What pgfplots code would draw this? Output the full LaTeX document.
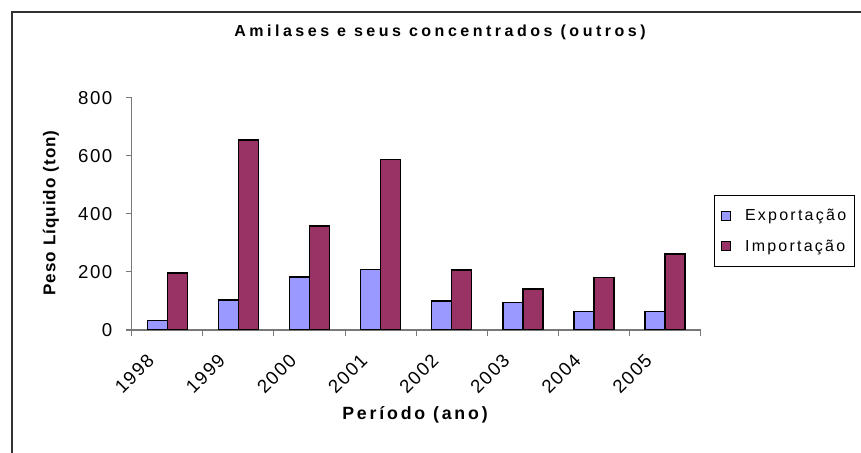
\documentclass[border=0pt]{standalone}
\usepackage{fontspec}
\setmainfont{Liberation Sans}
\newfontfamily\tickfont{Liberation Sans}[LetterSpace=8]
\newfontfamily\legfont{Liberation Sans}[LetterSpace=14]
\newfontfamily\titlefont{Liberation Sans}[LetterSpace=22]
\newfontfamily\ylabfont{Liberation Sans}[LetterSpace=6]
\newfontfamily\xlabfont{Liberation Sans}[LetterSpace=16]
\usepackage{pgfplots}
\pgfplotsset{compat=1.18}
\definecolor{expc}{RGB}{153,153,255}
\definecolor{impc}{RGB}{153,51,102}
\definecolor{axgray}{RGB}{120,120,120}
\definecolor{bordc}{RGB}{50,50,50}
\begin{document}
\begin{tikzpicture}[x=0.75pt,y=0.75pt]
\useasboundingbox (0,0) rectangle (861,453);
\draw[bordc, line width=1.5pt] (12,0) -- (12,441) -- (861,441);
\coordinate (sw) at (131.7,123);
\begin{axis}[
  at={(sw)}, anchor=south west,
  scale only axis, width=426.75pt, height=174.2pt,
  ybar=0pt, bar width=15pt,
  xmin=-0.5, xmax=7.5, ymin=0, ymax=800,
  axis x line=bottom, axis y line=left,
  axis line style={-, draw=axgray, line width=0.9pt},
  xtick={0,...,7},
  xticklabels={1998,1999,2000,2001,2002,2003,2004,2005},
  ytick={0,200,400,600,800},
  minor xtick={-0.5,0.5,...,7.5},
  minor ytick={0,200,400,600,800},
  major tick length=0pt, minor tick length=4.2pt,
  tick align=outside,
  every tick/.style={draw=axgray, line width=0.8pt},
  /pgf/number format/assume math mode=true,
  yticklabel style={font=\tickfont\fontsize{14}{16}\selectfont, xshift=-11pt},
  xticklabel style={font=\tickfont\fontsize{14}{16}\selectfont, xshift=-16pt, yshift=-12pt, rotate=45, anchor=north east},
  legend style={at={(1.0234,0.581)}, anchor=north west, draw=black, line width=0.6pt,
    font=\legfont\fontsize{12}{13}\selectfont, inner xsep=4pt, inner ysep=8pt, row sep=9pt,
    legend cell align=left},
  legend image code/.code={\draw[#1, line width=0.7pt] (1pt,-3.4pt) rectangle (7.8pt,3.4pt); \path[draw=none, fill=none] (0pt,0pt) -- (17pt,0pt);},
]
\addplot[fill=expc, draw=black, line width=1.1pt] coordinates {(0,32) (1,104) (2,182) (3,208) (4,100) (5,94) (6,63) (7,63)};
\addplot[fill=impc, draw=black, line width=1.1pt] coordinates {(0,197) (1,654) (2,358) (3,587) (4,207) (5,141) (6,181) (7,261)};
\legend{Exportação, Importação}
\end{axis}
\node[font=\titlefont\bfseries\fontsize{12}{14}\selectfont] at (440,421) {Amilases e seus concentrados (outros)};
\node[rotate=90, font=\ylabfont\bfseries\fontsize{12.8}{14}\selectfont] at (51,240) {Peso Líquido (ton)};
\node[font=\xlabfont\bfseries\fontsize{13.3}{15}\selectfont] at (415,38) {Período (ano)};
\end{tikzpicture}
\end{document}
